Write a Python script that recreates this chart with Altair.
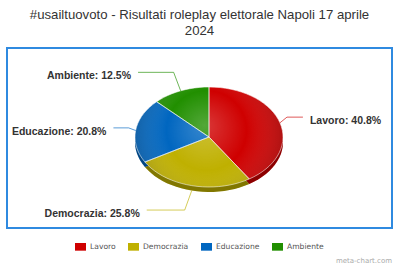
import math
import altair as alt

# ---- data ----
categories = ["Lavoro", "Democrazia", "Educazione", "Ambiente"]
values = [40.8, 25.8, 20.8, 12.5]
colors = ["#cf0000", "#bfb000", "#0066c0", "#218f00"]
title_lines = ["#usailtuovoto - Risultati roleplay elettorale Napoli 17 aprile", "2024"]
credit = "meta-chart.com"

# ---- layout (plot-area pixels) ----
W, H = 385, 180
CX, CY, RX, RY, DEPTH = 202, 89, 74, 50, 5
LBL_RY, LBL_R = 70, 96

total = sum(values)


def pt(t, dy=0.0):
    return [CX + RX * math.sin(t), CY - RY * math.cos(t) + dy]


tops, sides, conns, labels = [], [], [], []
acc = 0.0
for cat, v in zip(categories, values):
    a0 = acc / total * 2 * math.pi
    acc += v
    a1 = acc / total * 2 * math.pi
    n = max(4, int(80 * (a1 - a0) / (2 * math.pi)) + 2)
    arc = [pt(a0 + (a1 - a0) * k / n) for k in range(n + 1)]
    ring = [[CX, CY]] + arc + [[CX, CY]]
    tops.append({"type": "Feature", "properties": {"cat": cat},
                 "geometry": {"type": "Polygon", "coordinates": [ring]}})
    sides.append({"type": "Feature", "properties": {"cat": cat},
                  "geometry": {"type": "Polygon",
                               "coordinates": [[[x, y + DEPTH] for x, y in ring]]}})
    mid = (a0 + a1) / 2
    s, c = math.sin(mid), math.cos(mid)
    side = 1 if s >= 0 else -1
    edge = pt(mid, DEPTH if c < 0 else 0)
    ly = CY - LBL_RY * c + (DEPTH if c < 0 else 0)
    xe = CX + side * math.sqrt(max(LBL_R ** 2 - (ly - CY) ** 2, 0))
    elbow_x = edge[0] + side * 7
    elbow_x = min(elbow_x, xe) if side > 0 else max(elbow_x, xe)
    conns.append({"type": "Feature", "properties": {"cat": cat},
                  "geometry": {"type": "LineString",
                               "coordinates": [edge, [elbow_x, ly], [xe, ly]]}})
    labels.append({"cat": cat, "text": f"{cat}: {v}%", "lon": xe + side * 7,
                   "lat": ly, "side": "right" if side > 0 else "left"})

ellipse = [pt(2 * math.pi * k / 120) for k in range(121)]
ellipse_feat = [{"type": "Feature", "properties": {},
                 "geometry": {"type": "Polygon", "coordinates": [ellipse]}}]

proj = dict(type="identity", scale=1, translate=[0, 0])
cscale = alt.Scale(domain=categories, range=colors)

side_layer = alt.Chart(alt.Data(values=sides)).mark_geoshape(opacity=1, strokeWidth=0).encode(
    color=alt.Color("properties.cat:N", scale=cscale, sort=categories,
                    legend=alt.Legend(title=None))
).project(**proj)

side_shade = alt.Chart(alt.Data(values=sides)).mark_geoshape(
    fill="#000000", fillOpacity=0.32, strokeWidth=0
).project(**proj)

top_layer = alt.Chart(alt.Data(values=tops)).mark_geoshape(opacity=1, strokeWidth=0).encode(
    color=alt.Color("properties.cat:N", scale=cscale, sort=categories)
).project(**proj)

shade = alt.Chart(alt.Data(values=ellipse_feat)).mark_geoshape(
    strokeWidth=0,
    fill=alt.RadialGradient(
        gradient="radial", x1=0.47, y1=0.42, r1=0, x2=0.5, y2=0.5, r2=0.6,
        stops=[alt.GradientStop(offset=0, color="rgba(255,255,255,0.22)"),
               alt.GradientStop(offset=0.45, color="rgba(255,255,255,0.0)"),
               alt.GradientStop(offset=1, color="rgba(0,0,0,0.33)")])
).project(**proj)

outline = alt.Chart(alt.Data(values=tops)).mark_geoshape(
    fill="transparent", stroke="#ffffff", strokeWidth=0.9, strokeOpacity=0.6
).project(**proj)

conn_layer = alt.Chart(alt.Data(values=conns)).mark_geoshape(
    filled=False, strokeWidth=1, strokeOpacity=0.65, fill="transparent"
).encode(
    stroke=alt.Stroke("properties.cat:N", scale=alt.Scale(domain=categories, range=colors),
                      legend=None)
).project(**proj)

lbl_data = alt.Data(values=labels)
lbl_right = alt.Chart(lbl_data).transform_filter("datum.side == 'right'").mark_text(
    align="left", baseline="middle", dy=4, font="Liberation Sans", fontWeight="bold",
    fontSize=10.5, color="#333333"
).encode(longitude="lon:Q", latitude="lat:Q", text="text:N").project(**proj)
lbl_left = alt.Chart(lbl_data).transform_filter("datum.side == 'left'").mark_text(
    align="right", baseline="middle", dy=4, font="Liberation Sans", fontWeight="bold",
    fontSize=10.5, color="#333333"
).encode(longitude="lon:Q", latitude="lat:Q", text="text:N").project(**proj)

credit_layer = alt.Chart(alt.Data(values=[{"t": credit}])).mark_text(
    align="right", baseline="middle", font="DejaVu Sans", fontSize=7, color="#aaaaaa"
).encode(x=alt.value(385), y=alt.value(212.5), text="t:N")

chart = alt.layer(
    side_layer, side_shade, top_layer, shade, outline, conn_layer, lbl_right, lbl_left,
    credit_layer
).resolve_scale(stroke="independent").properties(
    width=W, height=H,
    autosize=alt.AutoSizeParams(type="none"),
    padding={"left": 7, "top": 48, "right": 7, "bottom": 38},
    title=alt.TitleParams(
        text=title_lines, anchor="middle", font="Liberation Sans", fontSize=13.2,
        fontWeight="normal", color="#333333", lineHeight=16, offset=10
    ),
    background="#ffffff",
).configure_view(
    stroke="#2f8ae0", strokeWidth=2, fill="#ffffff"
).configure_legend(
    orient="none", legendX=68, legendY=193, direction="horizontal",
    symbolType="M-1,-0.7H1V0.7H-1Z", symbolSize=121, symbolStrokeWidth=0,
    labelFont="DejaVu Sans", labelFontSize=7.6, labelColor="#555555",
    columnPadding=12, labelOffset=4, symbolOpacity=1
)

chart.save("out.html", embed_options={"renderer": "svg", "actions": False})
